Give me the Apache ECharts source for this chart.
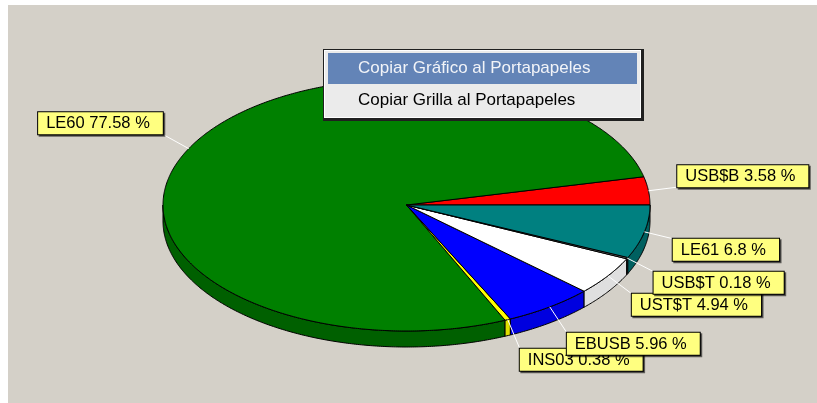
<!DOCTYPE html>
<html>
<head>
<meta charset="utf-8">
<script src="https://cdn.jsdelivr.net/npm/echarts@6/dist/echarts.min.js"></script>
<style>
  html, body { margin: 0; padding: 0; background: #ffffff; }
  #chart { width: 817px; height: 403px; }
</style>
</head>
<body>
<div id="chart"></div>
<script>
// Slices, counter-clockwise from the 3 o'clock position
const categories = ['USB$B', 'LE60', 'INS03', 'EBUSB', 'UST$T', 'USB$T', 'LE61'];
const percents = [3.58, 77.58, 0.38, 5.96, 4.94, 0.18, 6.8];
const sliceColors = ['#ff0000', '#008000', '#ffff00', '#0000ff', '#ffffff', '#808080', '#008080'];
const menuItems = ['Copiar Gráfico al Portapapeles', 'Copiar Grilla al Portapapeles'];

// Pie geometry (ellipse in screen space with a shallow side wall)
const CX = 406.5, CY = 205, RX = 243.5, RY = 126, DEPTH = 16;
const LBL_RX = RX + 29, LBL_RY = RY + 32;
const FONT = '16.5px "Liberation Sans", Arial, sans-serif';

const total = percents.reduce((a, b) => a + b, 0);
const startAngles = [];
(function () {
  let acc = 0;
  percents.forEach(v => { startAngles.push(acc / total * 360); acc += v; });
})();

function pt(t, dy, rx, ry) {
  const r = t * Math.PI / 180;
  return [CX + (rx || RX) * Math.cos(r), CY - (ry || RY) * Math.sin(r) + (dy || 0)];
}
function arc(a1, a2, dy) {
  const n = Math.max(2, Math.ceil(Math.abs(a2 - a1) / 0.5));
  const pts = [];
  for (let i = 0; i <= n; i++) pts.push(pt(a1 + (a2 - a1) * i / n, dy));
  return pts;
}
function darker(hex) {
  const n = parseInt(hex.slice(1), 16);
  const c = [(n >> 16) & 255, (n >> 8) & 255, n & 255].map(v => Math.max(0, v - 32));
  return 'rgb(' + c.join(',') + ')';
}
function span(i, v) {
  const a1 = startAngles[i];
  return [a1, a1 + v / total * 360];
}

const chart = echarts.init(document.getElementById('chart'), null, { renderer: 'canvas' });

const option = {
  animation: false,
  backgroundColor: '#ffffff',
  graphic: [
    { type: 'rect', z: -10, shape: { x: 8, y: 5, width: 809, height: 398 }, style: { fill: '#d4d0c8' } },
    // context menu
    { type: 'rect', z: 100, shape: { x: 323, y: 49, width: 321, height: 72 }, style: { fill: '#202020' } },
    { type: 'rect', z: 101, shape: { x: 324, y: 50, width: 317, height: 68 }, style: { fill: '#ffffff' } },
    { type: 'rect', z: 102, shape: { x: 325, y: 51, width: 315, height: 66 }, style: { fill: '#ebebeb' } },
    { type: 'rect', z: 103, shape: { x: 328, y: 53, width: 309, height: 31 }, style: { fill: '#6384b7' } },
    { type: 'text', z: 104, x: 358, y: 68.5, style: { text: menuItems[0], fill: '#f2f4f8', font: '17px "Liberation Sans", Arial, sans-serif', verticalAlign: 'middle' } },
    { type: 'text', z: 104, x: 358, y: 100, style: { text: menuItems[1], fill: '#000000', font: '17px "Liberation Sans", Arial, sans-serif', verticalAlign: 'middle' } }
  ],
  series: [
    {
      // side wall of the front half
      type: 'custom',
      coordinateSystem: 'none',
      z: 2,
      data: percents,
      renderItem: function (params, api) {
        const i = params.dataIndex;
        const [a1, a2] = span(i, api.value(0));
        const lo = Math.max(a1, 180), hi = Math.min(a2, 360);
        if (hi <= lo) return { type: 'group', children: [] };
        const pts = arc(lo, hi, 0).concat(arc(hi, lo, DEPTH));
        return {
          type: 'polygon',
          shape: { points: pts },
          style: { fill: darker(sliceColors[i]), stroke: '#000000', lineWidth: 1 }
        };
      }
    },
    {
      // top faces
      type: 'custom',
      coordinateSystem: 'none',
      z: 3,
      data: percents,
      renderItem: function (params, api) {
        const i = params.dataIndex;
        const [a1, a2] = span(i, api.value(0));
        const pts = [[CX, CY]].concat(arc(a1, a2, 0));
        return {
          type: 'polygon',
          shape: { points: pts },
          style: { fill: sliceColors[i], stroke: '#000000', lineWidth: 1 }
        };
      }
    },
    {
      // marks: connector lines and value boxes
      type: 'custom',
      coordinateSystem: 'none',
      z: 4,
      data: percents,
      renderItem: function (params, api) {
        const i = params.dataIndex;
        const v = api.value(0);
        const [a1, a2] = span(i, v);
        const mid = (a1 + a2) / 2;
        const p0 = pt(mid, 0);
        const p1 = pt(mid, 0, LBL_RX, LBL_RY);
        const r = mid * Math.PI / 180;
        return {
          type: 'group',
          children: [
            {
              type: 'line',
              shape: { x1: p0[0], y1: p0[1], x2: p1[0], y2: p1[1] },
              style: { stroke: '#ffffff', lineWidth: 1 }
            },
            {
              type: 'text',
              x: p1[0], y: p1[1],
              style: {
                text: categories[i] + ' ' + v + ' %',
                font: FONT,
                fill: '#000000',
                align: Math.cos(r) >= 0 ? 'left' : 'right',
                verticalAlign: Math.sin(r) >= 0 ? 'bottom' : 'top',
                backgroundColor: '#ffff80',
                borderColor: '#000000',
                borderWidth: 1,
                padding: [3, 13, 2, 8],
                shadowColor: 'rgba(0,0,0,0.55)',
                shadowOffsetX: 1.5,
                shadowOffsetY: 1.5
              }
            }
          ]
        };
      }
    }
  ]
};

chart.setOption(option);
</script>
</body>
</html>
